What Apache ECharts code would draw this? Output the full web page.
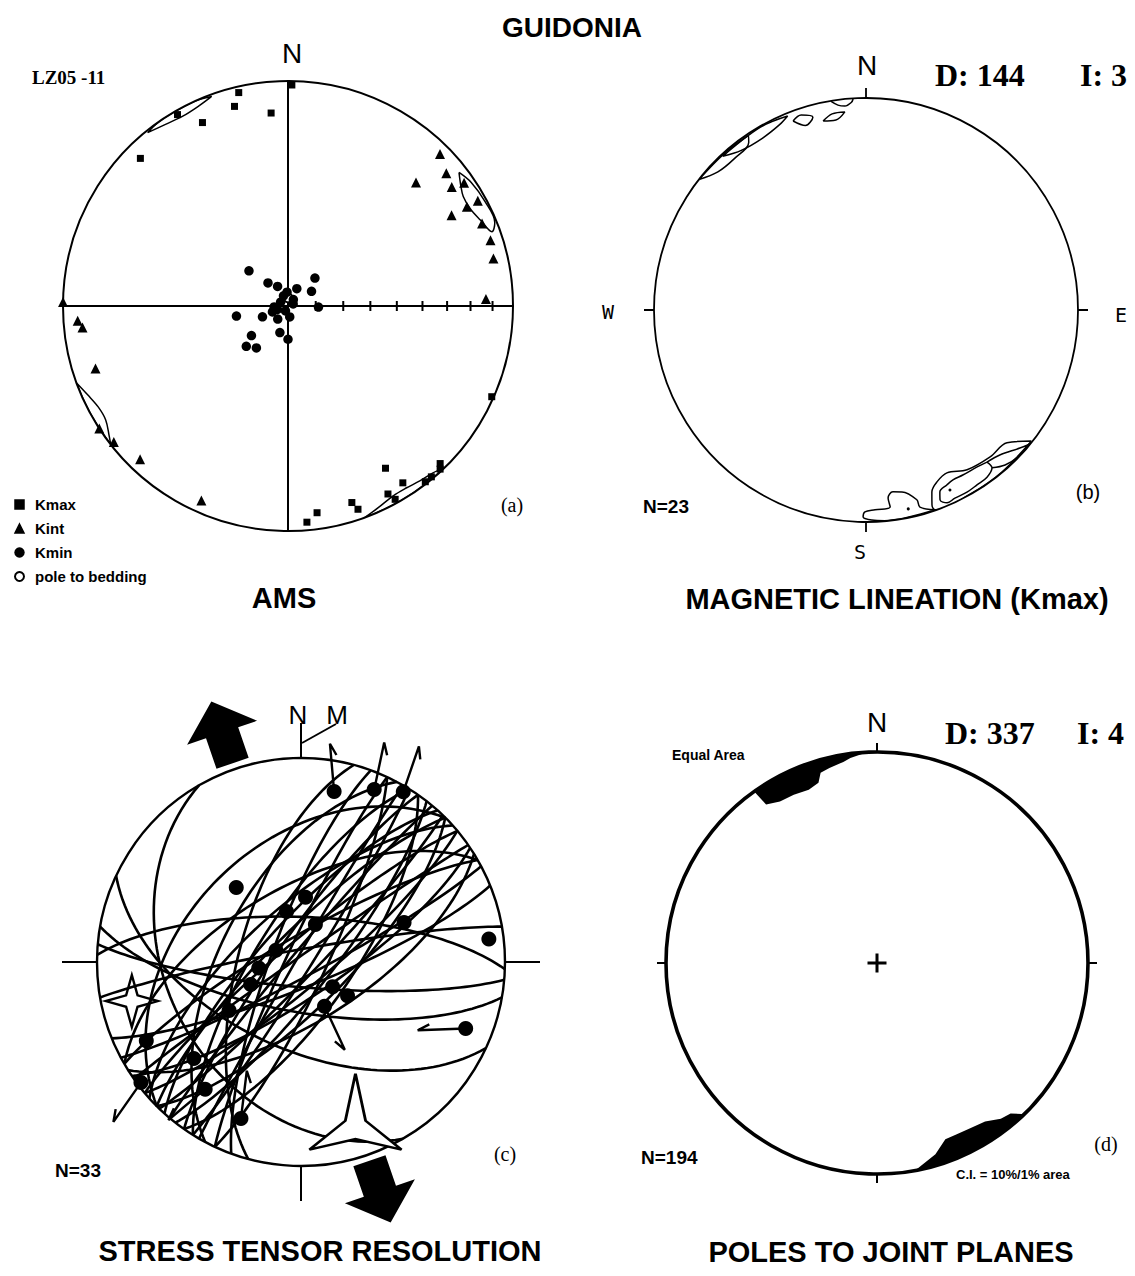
<!DOCTYPE html>
<html>
<head>
<meta charset="utf-8">
<title>Guidonia</title>
<script src="https://cdn.jsdelivr.net/npm/echarts@6/dist/echarts.min.js"></script>
<style>
html, body { margin: 0; padding: 0; background: #fff; }
#chart { width: 1135px; height: 1276px; }
</style>
</head>
<body>
<div id="chart"></div>
<script>
// ---------- (a) AMS: principal susceptibility axes, [trend, plunge] in degrees ----------
const kmax = [[1,2],[347,3],[345,9],[355,15],[335,11],[315,8],[330,2],
  [114,1],[149,17],[147,7],[142,1],[140,1],[136,3],[137,1],[152,6],[151,2],[162,9],[161,5],[172,8],[175,4]];
const kint = [[45,5],[46,22],[50,9],[54,11],[55,5],[61,4],[61,10],[61,18],[67,7],[72,6],[77,7],[88,13],
  [271,0],[266,7],[264,9],[252,11],[237,0],[232,2],[224,6],[204,6]];
const kmin = [[312,71],[319,79],[332,82],[27,83],[44,76],[58,80],[92,79],[259,71],[247,80],[266,85],
  [297,87],[207,88],[68,88],[40,87],[218,84],[197,80],[180,78],[231,73],[226,69],[217,71],
  [356,85],[249,84],[252,86],[171,86],[336,86]];
const beddingPoles = [[0,87]];
// 95% confidence regions of the mean axes
const kmaxConfNW = [[321,1],[326,3],[331,4],[336,3],[340,1],[336,0],[330,0],[325,0],[321,1]];
const kmaxConfSE = [[160,0],[156,2],[151,4],[147,4],[143,3],[139,2],[136,0],[142,0],[148,0],[154,0],[160,0]];
const kintConfNE = [[52,4],[55,7],[58,9],[62,9],[66,7],[70,4],[68,1],[62,1],[56,2],[52,4]];
const kintConfSW = [[250,0],[246,3],[242,5],[238,5],[234,2],[232,0],[238,0],[244,0],[250,0]];
// plunge graduations along the E-W diameter
const plungeTicks = [80,70,60,50,40,30,20,10];

// ---------- (b) magnetic lineation (Kmax) density contours, [trend, plunge] ----------
const linNW1 = [[308,0],[313,5],[319,6],[325,4],[326,1],[318,0.5],[308,0]];
const linNW2 = [[317,1],[322,5],[329,6],[335,4],[338,1.5],[330,0.5],[317,1]];
const linNW3 = [[338.9,5],[341.6,3.5],[344.6,6.3],[341.8,9.3],[338.9,5]];
const linNW4 = [[347.2,9.5],[350.2,6.8],[353.9,6.7],[351,10.2],[347.2,9.5]];
const linNW5 = [[350.5,0.3],[352.2,2.8],[354.1,3.7],[356,2],[356.5,0.3]];
const linSE1 = [[128.4,0.5],[133.3,9.5],[139.8,10.2],[147.7,11.8],[153.6,15.3],[157.6,13.3],[160.1,9.6],
  [161.3,3.3],[160.9,0.3],[150,0.3],[140,0.3],[128.4,0.5]];
const linSE2 = [[160.9,0.3],[164.7,4.1],[165,8.1],[168.8,13.6],[171.6,14.4],[173.3,11.7],[173,7.1],
  [177.4,6.3],[180.3,5.3],[180.8,2.6],[178.4,1],[175,0.3],[168,0.3],[160.9,0.3]];
const linSE3 = [[141.5,9.2],[144.7,10.2],[149.6,10.7],[152.9,10.9],[155.2,10],[157.9,8.2],[158.7,4.3],
  [157.2,1.5],[154.7,2.1],[151,2],[147.6,2.6],[144.1,3],[141.4,5.3],[141.5,9.2]];
const linSE4 = [[141.5,9.2],[137.3,7.7],[131.9,2.8],[129.4,0.3],[133.9,0.3],[138.1,2],[141.4,5.3]];
const linMaxima = [[155,7],[168,4.6]];

// ---------- (c) fault-slip data: planes [strike, dip] (right-hand rule) ----------
const faultPlanes = [
  [200,78],[205,84],[210,88],[215,80],[220,86],[225,78],[230,82],[235,88],[240,80],[212,72],[222,74],[228,68],
  [25,80],[32,86],[38,78],[44,84],[50,80],[56,76],[62,84],[68,80],[45,72],[35,70],
  [195,65],[225,42],[240,60],[58,66],[208,58],
  [272,72],[95,80],[100,70],[115,55],[150,35],[260,85]];
// striae on the planes, [trend, plunge]
const striae = [[11,16],[23,9],[31,3],[319,50],[4,64],[344,69],[69,45],[83,8],[128,74],[126,67],[152,70],
  [112,14],[228,30],[243,16],[233,2],[201,19],[262,73],[295,79],[246,68],[236,55],[21,74],[217,23]];
// slip sense: [trend, plunge, direction of the arrow on the net]
const slipSense = [[11,16,355],[23,9,12],[31,3,19],[201,19,7],[217,23,230],[152,70,155],[112,14,268],[233,2,215]];
// reduced stress tensor axes, [trend, plunge]
const sigma2 = [[257,16]];
const sigma3 = [[160,23]];
// horizontal extension direction (both ends)
const extensionTrends = [341, 161];

// ---------- (d) poles to joint planes: density maxima outlines, [trend, plunge] ----------
const jointMaxNW = [[324.4,0],[325,9.2],[329,11.7],[333.7,12],[338.5,12.8],[342,11.2],[343.5,6.6],[346.3,5.4],
  [350.5,3.8],[352.6,2.3],[355.9,0.8],[356,0],[345,0],[335,0],[324.4,0]];
const jointMaxSE = [[169.6,0],[163,5.9],[158.8,11.4],[155.2,11.5],[150.6,11],[145.7,10],[141.5,6.4],
  [138.4,5.2],[136.2,1],[136,0],[145,0],[155,0],[165,0],[169.6,0]];

// ---------- projection helpers (lower hemisphere, equal area) ----------
const d2r = Math.PI / 180;
const eqArea = p => Math.SQRT2 * Math.sin((90 - p) * d2r / 2);
const proj = list => list.map(([t, p]) => [eqArea(p), t]);

// lines lying in a plane, from strike to strike + 180
function planeTrace(strike, dip) {
  const s = strike * d2r, dd = (strike + 90) * d2r, dp = dip * d2r;
  const a = [Math.cos(s), Math.sin(s), 0];
  const b = [Math.cos(dp) * Math.cos(dd), Math.cos(dp) * Math.sin(dd), Math.sin(dp)];
  const out = [];
  for (let k = 0; k <= 72; k++) {
    const t = k * Math.PI / 72, c = Math.cos(t), sn = Math.sin(t);
    const x = c * a[0] + sn * b[0], y = c * a[1] + sn * b[1], z = sn * b[2];
    out.push([(Math.atan2(y, x) / d2r + 360) % 360, Math.asin(Math.min(1, Math.max(0, z))) / d2r]);
  }
  return out;
}

const black = '#000';
const sans = '"Liberation Sans", Arial, Helvetica, sans-serif';
const serif = '"Liberation Serif", "Times New Roman", serif';
const mono = '"DejaVu Sans Mono", monospace';

const polar = [
  { center: [288, 306], radius: 225 },
  { center: [866, 310], radius: 212 },
  { center: [301, 962], radius: 204 },
  { center: [877, 963], radius: 211 }
];
function angleAxis(i, width, tickLen, split) {
  return {
    polarIndex: i, type: 'value', min: 0, max: 360, interval: 90, startAngle: 90, clockwise: true,
    axisLine: { show: true, lineStyle: { color: black, width } },
    axisTick: { show: tickLen > 0, length: tickLen, lineStyle: { color: black, width: Math.min(width, 2) } },
    axisLabel: { show: false },
    splitLine: { show: split, lineStyle: { color: black, width: 2 } }
  };
}
const angleAxes = [angleAxis(0, 2, 0, true), angleAxis(1, 1.8, 10, false), angleAxis(2, 2.4, 35, false), angleAxis(3, 3.6, 9, false)];
const radiusAxes = polar.map((_, i) => ({ polarIndex: i, type: 'value', min: 0, max: 1, show: false }));

const solid = { color: black, opacity: 1 };
const scatter = (name, pi, data, symbol, size, itemStyle, z) => ({
  name, type: 'scatter', coordinateSystem: 'polar', polarIndex: pi, data: proj(data),
  symbol, symbolSize: size, itemStyle: Object.assign({ opacity: 1 }, itemStyle || solid), silent: true, z: z || 5
});
const outline = (pi, data, width) => ({
  type: 'line', coordinateSystem: 'polar', polarIndex: pi, data: proj(data), symbol: 'none',
  smooth: 0.35, clip: false, silent: true, lineStyle: { color: black, width }, z: 4
});
const filledPatch = (pi, data) => {
  const pts = proj(data);
  return {
    type: 'custom', coordinateSystem: 'polar', polarIndex: pi, data: pts, silent: true, z: 3,
    renderItem: (params, api) => params.dataIndex !== 0 ? null : ({
      type: 'polygon', shape: { points: pts.map(v => api.coord(v)) }, style: { fill: black }
    })
  };
};

const series = [
  // (a)
  scatter('pole to bedding', 0, beddingPoles, 'emptyCircle', 9, { color: black, borderWidth: 1.5 }, 3),
  scatter('Kmax', 0, kmax, 'rect', 7),
  scatter('Kint', 0, kint, 'triangle', 10),
  scatter('Kmin', 0, kmin, 'circle', 9.5),
  {
    name: 'plunge graduation', type: 'scatter', coordinateSystem: 'polar', polarIndex: 0, silent: true,
    data: plungeTicks.map(p => [eqArea(p), 90]), symbol: 'rect', symbolSize: [2, 10], itemStyle: solid
  },
  outline(0, kmaxConfNW, 1.5), outline(0, kmaxConfSE, 1.5), outline(0, kintConfNE, 1.5), outline(0, kintConfSW, 1.5),
  // (b)
  outline(1, linNW1, 1.5), outline(1, linNW2, 1.5), outline(1, linNW3, 1.5), outline(1, linNW4, 1.5), outline(1, linNW5, 1.5),
  outline(1, linSE1, 1.5), outline(1, linSE2, 1.5), outline(1, linSE3, 1.5), outline(1, linSE4, 1.5),
  scatter('lineation maxima', 1, linMaxima, 'circle', 3),
  // (c)
  {
    name: 'fault planes', type: 'custom', coordinateSystem: 'polar', polarIndex: 2, silent: true, data: faultPlanes, z: 3,
    renderItem: (params, api) => ({
      type: 'polyline',
      shape: { points: planeTrace(api.value(0), api.value(1)).map(q => api.coord([eqArea(q[1]), q[0]])) },
      style: { stroke: black, lineWidth: 2.6, fill: null }
    })
  },
  scatter('striae', 2, striae, 'circle', 15, null, 6),
  {
    name: 'slip sense', type: 'custom', coordinateSystem: 'polar', polarIndex: 2, silent: true, data: slipSense, z: 6,
    renderItem: (params, api) => {
      const p0 = api.coord([eqArea(api.value(1)), api.value(0)]);
      const a = api.value(2) * d2r;
      const p1 = [p0[0] + Math.sin(a) * 48, p0[1] - Math.cos(a) * 48];
      const b = a + 155 * d2r;
      const p2 = [p1[0] + Math.sin(b) * 13, p1[1] - Math.cos(b) * 13];
      return { type: 'polyline', shape: { points: [p0, p1, p2] }, style: { stroke: black, lineWidth: 2.4, fill: null } };
    }
  },
  scatter('sigma 2', 2, sigma2, 'path://M50,0L61,39L100,50L61,61L50,100L39,61L0,50L39,39Z', [52, 52],
    { color: 'rgba(0,0,0,0)', borderColor: black, borderWidth: 2.4 }, 7),
  scatter('sigma 3', 2, sigma3, 'path://M50,0L61,62L100,100L50,86L0,100L39,62Z', [92, 76],
    { color: '#fff', borderColor: black, borderWidth: 2.6 }, 7),
  {
    name: 'extension', type: 'custom', coordinateSystem: 'polar', polarIndex: 2, silent: true,
    data: extensionTrends.map(t => [t]), z: 6,
    renderItem: (params, api) => {
      const az = api.value(0);
      const B = api.coord([1.03, az]), T = api.coord([1.35, az]);
      const L = Math.hypot(T[0] - B[0], T[1] - B[1]);
      const ux = (T[0] - B[0]) / L, uy = (T[1] - B[1]) / L, wx = -uy, wy = ux;
      const h = L - 33, sw = 17, hw = 37;
      const P = (al, ac) => [B[0] + ux * al + wx * ac, B[1] + uy * al + wy * ac];
      return { type: 'polygon', shape: { points: [P(0, sw), P(h, sw), P(h, hw), P(L, 0), P(h, -hw), P(h, -sw), P(0, -sw)] }, style: { fill: black } };
    }
  },
  // (d)
  filledPatch(3, jointMaxNW),
  filledPatch(3, jointMaxSE),
  {
    name: 'centre', type: 'scatter', coordinateSystem: 'polar', polarIndex: 3, silent: true, data: [[0, 0]],
    symbol: 'path://M8,0h3v19h-3z M0,8h19v3h-19z', symbolSize: 19, itemStyle: solid
  }
];

const txt = (text, x, y, font, align) => ({
  type: 'text', x, y, silent: true,
  style: { text, font, fill: black, align: align || 'center', verticalAlign: 'middle', textAlign: align || 'center', textVerticalAlign: 'middle' }
});

const graphic = [
  txt('GUIDONIA', 572, 27, `bold 28px ${sans}`),
  txt('LZ05 -11', 32, 77, `bold 19px ${serif}`, 'left'),
  txt('N', 292, 53, `28px ${sans}`),
  txt('(a)', 512, 505, `20px ${serif}`),
  txt('AMS', 284, 598, `bold 29px ${sans}`),
  txt('N', 867, 65, `28px ${sans}`),
  txt('D: 144', 935, 75, `bold 32px ${serif}`, 'left'),
  txt('I: 3', 1080, 75, `bold 32px ${serif}`, 'left'),
  txt('W', 608, 312, `20px ${mono}`),
  txt('E', 1121, 315, `20px ${mono}`),
  txt('S', 860, 552, `20px ${mono}`),
  txt('N=23', 643, 506, `bold 19px ${sans}`, 'left'),
  txt('(b)', 1088, 492, `20px ${sans}`),
  txt('MAGNETIC LINEATION (Kmax)', 897, 599, `bold 29px ${sans}`),
  txt('N', 298, 715, `26px ${sans}`),
  txt('M', 337, 715, `26px ${sans}`),
  { type: 'polyline', silent: true, shape: { points: [[302, 743], [336, 724]] }, style: { stroke: black, lineWidth: 2, fill: null } },
  txt('N=33', 55, 1170, `bold 19px ${sans}`, 'left'),
  txt('(c)', 505, 1154, `20px ${serif}`),
  txt('STRESS TENSOR RESOLUTION', 320, 1251, `bold 29px ${sans}`),
  txt('N', 877, 722, `28px ${sans}`),
  txt('D: 337', 945, 733, `bold 32px ${serif}`, 'left'),
  txt('I: 4', 1077, 733, `bold 32px ${serif}`, 'left'),
  txt('Equal Area', 672, 755, `bold 14px ${sans}`, 'left'),
  txt('N=194', 641, 1157, `bold 19px ${sans}`, 'left'),
  txt('(d)', 1106, 1144, `20px ${serif}`),
  txt('C.I. = 10%/1% area', 956, 1174, `bold 13px ${sans}`, 'left'),
  txt('POLES TO JOINT PLANES', 891, 1252, `bold 29px ${sans}`)
];

const chart = echarts.init(document.getElementById('chart'), null, { renderer: 'svg', width: 1135, height: 1276 });
chart.setOption({
  backgroundColor: '#fff',
  animation: false,
  polar,
  angleAxis: angleAxes,
  radiusAxis: radiusAxes,
  legend: {
    data: [
      { name: 'Kmax', icon: 'rect' },
      { name: 'Kint', icon: 'triangle' },
      { name: 'Kmin', icon: 'circle' },
      { name: 'pole to bedding', icon: 'emptyCircle' }
    ],
    orient: 'vertical', left: 9, top: 492, itemWidth: 9, itemHeight: 9, itemGap: 9, selectedMode: false,
    itemStyle: { borderColor: black, borderWidth: 1.5 },
    textStyle: { fontSize: 15, fontWeight: 'bold', fontFamily: 'Liberation Sans', color: black, padding: [0, 0, 0, 6] }
  },
  series,
  graphic
});
</script>
</body>
</html>
